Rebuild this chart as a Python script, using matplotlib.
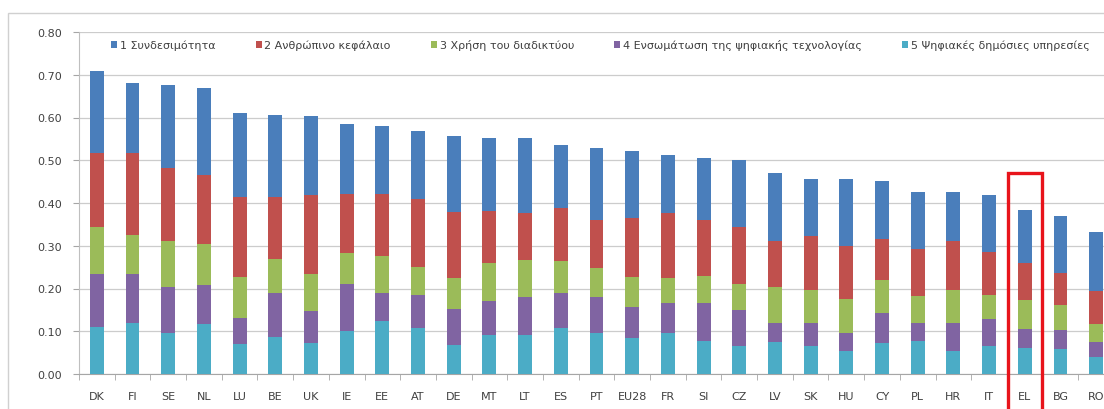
import matplotlib
matplotlib.use("Agg")
import matplotlib.pyplot as plt
from matplotlib.patches import Rectangle
import numpy as np

countries = ["DK", "FI", "SE", "NL", "LU", "BE", "UK", "IE", "EE", "AT", "DE", "MT",
             "LT", "ES", "PT", "EU28", "FR", "SI", "CZ", "LV", "SK", "HU", "CY", "PL",
             "HR", "IT", "EL", "BG", "RO"]

series_names = ["1 Συνδεσιμότητα", "2 Ανθρώπινο κεφάλαιο", "3 Χρήση του διαδικτύου",
                "4 Ενσωμάτωση της ψηφιακής τεχνολογίας", "5 Ψηφιακές δημόσιες υπηρεσίες"]

connectivity = [0.192, 0.162, 0.192, 0.204, 0.197, 0.194, 0.185, 0.164, 0.158, 0.159,
                0.179, 0.170, 0.176, 0.147, 0.168, 0.158, 0.136, 0.146, 0.156, 0.160,
                0.134, 0.158, 0.137, 0.133, 0.114, 0.133, 0.124, 0.133, 0.137]
human_capital = [0.172, 0.193, 0.172, 0.163, 0.185, 0.145, 0.183, 0.137, 0.145, 0.158,
                 0.153, 0.123, 0.109, 0.125, 0.111, 0.136, 0.151, 0.131, 0.134, 0.108,
                 0.127, 0.123, 0.096, 0.110, 0.115, 0.100, 0.087, 0.076, 0.076]
internet_use = [0.111, 0.092, 0.108, 0.095, 0.097, 0.078, 0.088, 0.074, 0.086, 0.066,
                0.073, 0.088, 0.086, 0.074, 0.068, 0.071, 0.058, 0.062, 0.061, 0.083,
                0.076, 0.080, 0.076, 0.062, 0.076, 0.056, 0.066, 0.057, 0.044]
digital_tech = [0.124, 0.113, 0.107, 0.092, 0.060, 0.104, 0.074, 0.110, 0.066, 0.077,
                0.083, 0.080, 0.089, 0.082, 0.085, 0.073, 0.071, 0.089, 0.084, 0.046,
                0.055, 0.043, 0.070, 0.042, 0.067, 0.064, 0.045, 0.045, 0.035]
public_services = [0.109, 0.120, 0.096, 0.116, 0.071, 0.086, 0.073, 0.100, 0.124, 0.108,
                   0.069, 0.091, 0.092, 0.108, 0.096, 0.084, 0.096, 0.078, 0.065, 0.074,
                   0.065, 0.053, 0.073, 0.078, 0.053, 0.065, 0.061, 0.059, 0.039]

highlight = "EL"

COLORS = ["#4A7EBB", "#C0504D", "#9BBB59", "#8064A2", "#4BACC6"]
TEXT = "#404040"

W, H = 1104, 410
fig = plt.figure(figsize=(W / 100, H / 100), dpi=100)
ax = fig.add_axes([79 / W, 35 / H, 1035 / W, 342 / H])

# chart-area frame (Excel style), cropped on right/bottom
fig.patches.append(Rectangle((8 / W, -0.2), 1.2, 1.2 - 14 / H, transform=fig.transFigure,
                             fill=False, edgecolor="#D0D0D0", linewidth=1.0))

x = np.arange(len(countries))
w = 0.39
stack = [public_services, digital_tech, internet_use, human_capital, connectivity]
colors = COLORS[::-1]
names = series_names[::-1]
bottom = np.zeros(len(countries))
handles = {}
for vals, c, n in zip(stack, colors, names):
    bars = ax.bar(x, vals, w, bottom=bottom, color=c, linewidth=0, zorder=3)
    handles[n] = bars
    bottom += np.array(vals)

ax.set_xlim(-0.5, len(countries) - 0.5)
ax.set_ylim(0, 0.8)
ax.set_yticks(np.arange(0, 0.81, 0.1))
ax.set_yticklabels([f"{v:.2f}" for v in np.arange(0, 0.81, 0.1)])
ax.set_xticks(x)
ax.set_xticklabels(countries)
ax.set_xticks(np.arange(-0.5, len(countries), 1), minor=True)
ax.tick_params(axis="x", which="major", length=0, pad=12, labelsize=8, labelcolor=TEXT)
ax.tick_params(axis="x", which="minor", length=4, color="#A6A6A6", direction="out")
ax.tick_params(axis="y", length=4, color="#A6A6A6", labelsize=8, labelcolor=TEXT, pad=8)
ax.grid(axis="y", color="#CCCCCC", linewidth=0.9, zorder=0)
for s in ["top", "right"]:
    ax.spines[s].set_visible(False)
ax.spines["left"].set_color("#BFBFBF")
ax.spines["bottom"].set_color("#A6A6A6")

# highlight box around Greece
i = countries.index(highlight)
ax.add_patch(Rectangle((i - 0.48, -0.12), 0.96, 0.59, fill=False, edgecolor="#E8141B",
                       linewidth=2.4, clip_on=False, zorder=5))

ax.legend([handles[n] for n in series_names], series_names, ncol=5, frameon=False,
          loc="center left", bbox_to_anchor=(0.031, 0.962), fontsize=8,
          handlelength=0.55, handleheight=0.55, handletextpad=0.25, columnspacing=3.6,
          borderpad=0, borderaxespad=0, labelcolor=TEXT)

fig.savefig("out.png", dpi=100)
